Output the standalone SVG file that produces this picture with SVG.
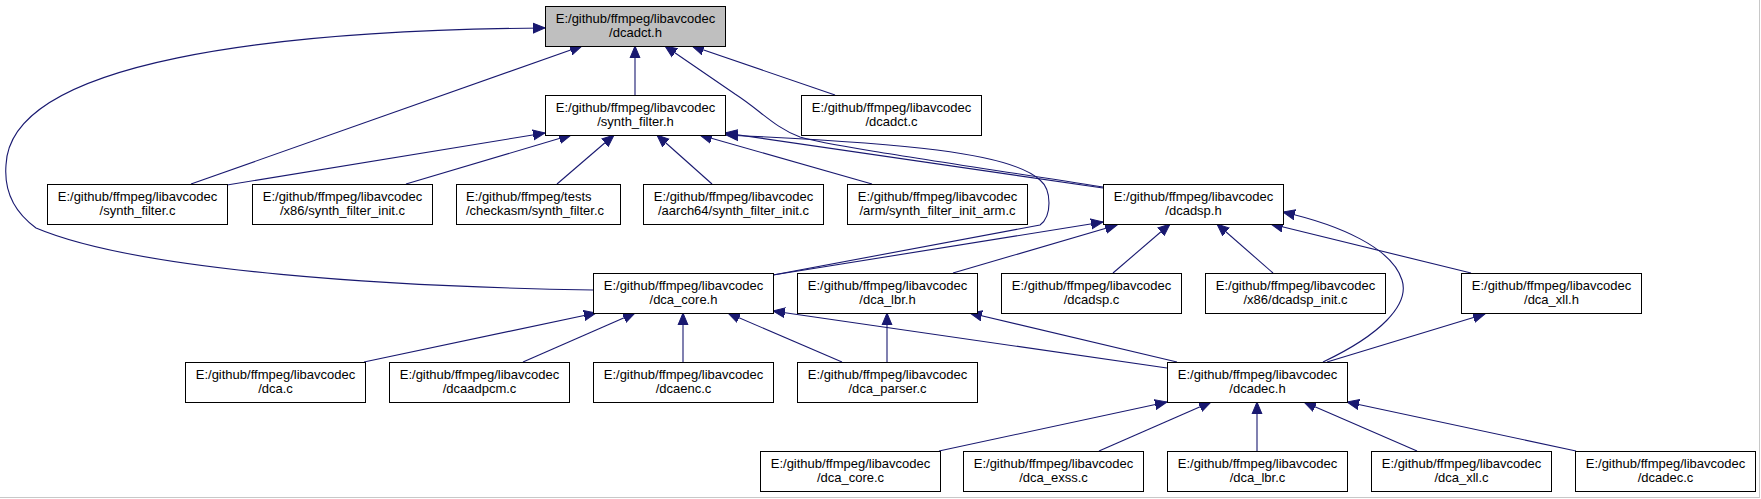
<svg xmlns="http://www.w3.org/2000/svg" width="1761" height="499" viewBox="0 0 1761 499">
<style>
.n rect{fill:#ffffff;stroke:#000000;stroke-width:1}
.n.root rect{fill:#bfbfbf}
.n text{font-family:"Liberation Sans",Arial,Helvetica,sans-serif;font-size:13px;fill:#000000;text-anchor:middle}
.n text.l{text-anchor:start}
#edges path{fill:none;stroke:#191970;stroke-width:1.1;marker-end:url(#ah)}
</style>
<defs>
<marker id="ah" markerUnits="userSpaceOnUse" markerWidth="13" markerHeight="12" viewBox="0 -6 13 12" refX="12" refY="0" orient="auto">
<path d="M0,-5 L12,0 L0,5 z" fill="#191970" stroke="#191970" stroke-width="1"/>
</marker>
</defs>
<rect x="0" y="0" width="1761" height="499" fill="#ffffff"/>
<line x1="1759.5" y1="0" x2="1759.5" y2="498" stroke="#c8c8c8" stroke-width="1"/>
<line x1="0" y1="497.5" x2="1760" y2="497.5" stroke="#c8c8c8" stroke-width="1"/>

<g id="edges">
<path d="M635,95 L635,46"/>
<path d="M191,184 L582,46"/>
<path d="M835,95 L692,46"/>
<path d="M593,290 C400,287 140,272 36,228 C14,212 4,190 6,165 C10,60 280,30 545,28"/>
<path d="M1103,187 C950,163 830,146 800,137 C775,128 760,110 735,94 L665,46"/>
<path d="M227,185 L545,133"/>
<path d="M406,184 L571,135"/>
<path d="M557,184 L614,135"/>
<path d="M712,184 L657,135"/>
<path d="M872,184 L700,135"/>
<path d="M1103,188 L725,133"/>
<path d="M773,275 L1040,225 C1052,216 1052,190 1040,180 C1010,152 900,143 726,135"/>
<path d="M773,275 L1103,222"/>
<path d="M953,273 L1117,225"/>
<path d="M1113,273 L1170,224"/>
<path d="M1273,273 L1217,224"/>
<path d="M1471,273 L1271,224"/>
<path d="M1323,362 C1380,335 1410,305 1402,280 C1392,248 1340,225 1283,212"/>
<path d="M1327,362 L1485,314"/>
<path d="M364,362 L596,313"/>
<path d="M523,362 L635,313"/>
<path d="M683,362 L683,313"/>
<path d="M842,362 L728,313"/>
<path d="M887,362 L887,313"/>
<path d="M1167,368 L773,311"/>
<path d="M1177,362 L970,313"/>
<path d="M939,451 L1167,402"/>
<path d="M1099,451 L1211,402"/>
<path d="M1257,451 L1257,402"/>
<path d="M1417,451 L1304,402"/>
<path d="M1576,451 L1347,402"/>
</g>

<g id="n_dcadct_h" class="n root"><rect x="545.5" y="6.5" width="180" height="40"/><text x="635.5" y="23">E:/github/ffmpeg/libavcodec</text><text x="635.5" y="37">/dcadct.h</text></g>
<g id="n_synth_filter_h" class="n"><rect x="545.5" y="95.5" width="180" height="40"/><text x="635.5" y="112">E:/github/ffmpeg/libavcodec</text><text x="635.5" y="126">/synth_filter.h</text></g>
<g id="n_dcadct_c" class="n"><rect x="801.5" y="95.5" width="180" height="40"/><text x="891.5" y="112">E:/github/ffmpeg/libavcodec</text><text x="891.5" y="126">/dcadct.c</text></g>

<g id="n_synth_filter_c" class="n"><rect x="47.5" y="184.5" width="180" height="40"/><text x="137.5" y="201">E:/github/ffmpeg/libavcodec</text><text x="137.5" y="215">/synth_filter.c</text></g>
<g id="n_x86_synth_filter_init_c" class="n"><rect x="252.5" y="184.5" width="180" height="40"/><text x="342.5" y="201">E:/github/ffmpeg/libavcodec</text><text x="342.5" y="215">/x86/synth_filter_init.c</text></g>
<g id="n_checkasm_synth_filter_c" class="n"><rect x="456.5" y="184.5" width="164" height="40"/><text class="l" x="466" y="201">E:/github/ffmpeg/tests</text><text class="l" x="466" y="215">/checkasm/synth_filter.c</text></g>
<g id="n_aarch64_synth_filter_init_c" class="n"><rect x="643.5" y="184.5" width="180" height="40"/><text x="733.5" y="201">E:/github/ffmpeg/libavcodec</text><text x="733.5" y="215">/aarch64/synth_filter_init.c</text></g>
<g id="n_arm_synth_filter_init_arm_c" class="n"><rect x="847.5" y="184.5" width="180" height="40"/><text x="937.5" y="201">E:/github/ffmpeg/libavcodec</text><text x="937.5" y="215">/arm/synth_filter_init_arm.c</text></g>
<g id="n_dcadsp_h" class="n"><rect x="1103.5" y="184.5" width="180" height="40"/><text x="1193.5" y="201">E:/github/ffmpeg/libavcodec</text><text x="1193.5" y="215">/dcadsp.h</text></g>

<g id="n_dca_core_h" class="n"><rect x="593.5" y="273.5" width="180" height="40"/><text x="683.5" y="290">E:/github/ffmpeg/libavcodec</text><text x="683.5" y="304">/dca_core.h</text></g>
<g id="n_dca_lbr_h" class="n"><rect x="797.5" y="273.5" width="180" height="40"/><text x="887.5" y="290">E:/github/ffmpeg/libavcodec</text><text x="887.5" y="304">/dca_lbr.h</text></g>
<g id="n_dcadsp_c" class="n"><rect x="1001.5" y="273.5" width="180" height="40"/><text x="1091.5" y="290">E:/github/ffmpeg/libavcodec</text><text x="1091.5" y="304">/dcadsp.c</text></g>
<g id="n_x86_dcadsp_init_c" class="n"><rect x="1205.5" y="273.5" width="180" height="40"/><text x="1295.5" y="290">E:/github/ffmpeg/libavcodec</text><text x="1295.5" y="304">/x86/dcadsp_init.c</text></g>
<g id="n_dca_xll_h" class="n"><rect x="1461.5" y="273.5" width="180" height="40"/><text x="1551.5" y="290">E:/github/ffmpeg/libavcodec</text><text x="1551.5" y="304">/dca_xll.h</text></g>

<g id="n_dca_c" class="n"><rect x="185.5" y="362.5" width="180" height="40"/><text x="275.5" y="379">E:/github/ffmpeg/libavcodec</text><text x="275.5" y="393">/dca.c</text></g>
<g id="n_dcaadpcm_c" class="n"><rect x="389.5" y="362.5" width="180" height="40"/><text x="479.5" y="379">E:/github/ffmpeg/libavcodec</text><text x="479.5" y="393">/dcaadpcm.c</text></g>
<g id="n_dcaenc_c" class="n"><rect x="593.5" y="362.5" width="180" height="40"/><text x="683.5" y="379">E:/github/ffmpeg/libavcodec</text><text x="683.5" y="393">/dcaenc.c</text></g>
<g id="n_dca_parser_c" class="n"><rect x="797.5" y="362.5" width="180" height="40"/><text x="887.5" y="379">E:/github/ffmpeg/libavcodec</text><text x="887.5" y="393">/dca_parser.c</text></g>
<g id="n_dcadec_h" class="n"><rect x="1167.5" y="362.5" width="180" height="40"/><text x="1257.5" y="379">E:/github/ffmpeg/libavcodec</text><text x="1257.5" y="393">/dcadec.h</text></g>

<g id="n_dca_core_c" class="n"><rect x="760.5" y="451.5" width="180" height="40"/><text x="850.5" y="468">E:/github/ffmpeg/libavcodec</text><text x="850.5" y="482">/dca_core.c</text></g>
<g id="n_dca_exss_c" class="n"><rect x="963.5" y="451.5" width="180" height="40"/><text x="1053.5" y="468">E:/github/ffmpeg/libavcodec</text><text x="1053.5" y="482">/dca_exss.c</text></g>
<g id="n_dca_lbr_c" class="n"><rect x="1167.5" y="451.5" width="180" height="40"/><text x="1257.5" y="468">E:/github/ffmpeg/libavcodec</text><text x="1257.5" y="482">/dca_lbr.c</text></g>
<g id="n_dca_xll_c" class="n"><rect x="1371.5" y="451.5" width="180" height="40"/><text x="1461.5" y="468">E:/github/ffmpeg/libavcodec</text><text x="1461.5" y="482">/dca_xll.c</text></g>
<g id="n_dcadec_c" class="n"><rect x="1575.5" y="451.5" width="180" height="40"/><text x="1665.5" y="468">E:/github/ffmpeg/libavcodec</text><text x="1665.5" y="482">/dcadec.c</text></g>
</svg>
